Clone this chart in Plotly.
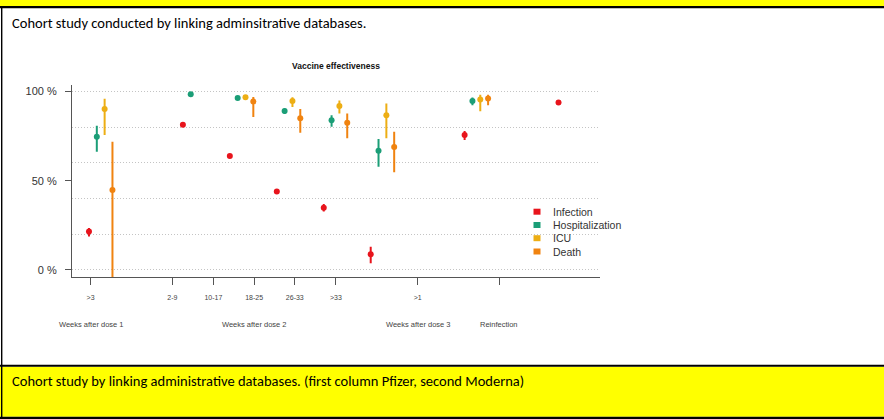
import plotly.graph_objects as go

W, H = 884, 419

# ---- data -------------------------------------------------------------
tick_labels = [">3", "2-9", "10-17", "18-25", "26-33", ">33", ">1", ""]
cat_pos = [0, 2, 3, 4, 5, 6, 8, 10]          # category position along the axis
tick_pos = [0.2, 10.65, 15.9, 21.1, 26.3, 31.55, 42.0, 52.45]
group_labels = ["Weeks after dose 1", "Weeks after dose 2", "Weeks after dose 3", "Reinfection"]
group_at = [0, 3, 6, 7]                        # tick index under which each group label sits

series_names = ["Infection", "Hospitalization", "ICU", "Death"]
series_colors = ["#E8141C", "#1B9E77", "#EDAE14", "#F08310"]

infection    = [21.5, 81.4, 63.9, 43.9, 34.9, 8.8, 75.6, 93.9]
infection_lo = [18.7, 80.6, 63.0, 43.0, 32.7, 3.7, 72.8, 93.0]
infection_hi = [23.5, 82.2, 64.8, 44.8, 37.0, 13.0, 77.9, 94.8]

hosp    = [74.7, 98.6, 96.4, 89.1, 84.0, 66.8, 94.8, None]
hosp_lo = [66.3, 98.0, 95.8, 87.5, 80.3, 57.9, 92.4, None]
hosp_hi = [80.8, 99.2, 97.0, 90.5, 86.8, 73.4, 96.7, None]

icu    = [90.2, None, 96.9, 94.8, 92.0, 86.8, 95.6, None]
icu_lo = [75.6, None, 95.5, 91.4, 87.8, 73.8, 89.0, None]
icu_hi = [96.0, None, 98.0, 96.8, 95.0, 93.4, 98.3, None]

death    = [44.8, None, 94.5, 85.0, 82.5, 69.0, 96.2, None]
death_lo = [-30.0, None, 85.7, 77.0, 73.8, 54.7, 92.4, None]
death_hi = [71.9, None, 97.0, 90.3, 87.8, 77.5, 98.3, None]

values = [infection, hosp, icu, death]
lows = [infection_lo, hosp_lo, icu_lo, death_lo]
highs = [infection_hi, hosp_hi, icu_hi, death_hi]

SLOTS = 6  # each category occupies six slots; series k sits in slot k


def py(v):
    """pixel row -> paper y"""
    return 1 - v / H


def px(v):
    """pixel column -> paper x"""
    return v / W


fig = go.Figure()

for k, name in enumerate(series_names):
    xs, ys, up, dn = [], [], [], []
    for p, v, lo, hi in zip(cat_pos, values[k], lows[k], highs[k]):
        if v is None:
            continue
        xs.append(SLOTS * p + k)
        ys.append(v)
        up.append(hi - v)
        dn.append(v - lo)
    fig.add_trace(go.Scatter(
        x=xs, y=ys, mode="markers", name=name, showlegend=False,
        marker=dict(color=series_colors[k], size=6, symbol="circle"),
        error_y=dict(type="data", symmetric=False, array=up, arrayminus=dn,
                     color=series_colors[k], thickness=2, width=0),
        cliponaxis=True,
    ))

axis_grey = "#555555"
label_font = dict(family="Liberation Sans, Arial, sans-serif", size=7, color="#444444")

fig.update_layout(
    width=W, height=H,
    margin=dict(l=0, r=0, t=0, b=0),
    paper_bgcolor="white", plot_bgcolor="white",
    showlegend=False,
    xaxis=dict(
        domain=[px(72), px(600)], range=[-2.17, 65.3],
        tickmode="array", tickvals=tick_pos, ticktext=tick_labels,
        ticks="outside", ticklen=7, tickwidth=1, tickcolor=axis_grey,
        ticklabelstandoff=7,
        showline=True, linecolor=axis_grey, linewidth=1,
        showgrid=False, zeroline=False, tickfont=label_font,
    ),
    # dotted reference lines every 20 %
    yaxis=dict(
        domain=[py(277), py(84.5)], range=[-4, 104],
        tickmode="array", tickvals=[0, 20, 40, 60, 80, 100],
        showticklabels=False, ticks="",
        showgrid=True, gridcolor="#c4c4c4", griddash="1px,2px", gridwidth=1,
        showline=True, linecolor=axis_grey, linewidth=1, zeroline=False,
    ),
    # labelled axis 0 / 50 / 100 %
    yaxis2=dict(
        overlaying="y", anchor="x", side="left", range=[-4, 104],
        tickmode="array", tickvals=[0, 50, 100], ticktext=["0 %", "50 %", "100 %"],
        ticks="outside", ticklen=6, tickwidth=1, tickcolor=axis_grey,
        ticklabelstandoff=6,
        showgrid=False, showline=False, zeroline=False,
        tickfont=dict(family="Liberation Sans, Arial, sans-serif", size=11, color="#333333"),
    ),
)
# dummy trace so the overlay axis is rendered
fig.add_trace(go.Scatter(x=[None], y=[None], yaxis="y2", showlegend=False, hoverinfo="skip"))

annotations = []
# chart title
annotations.append(dict(text="<b>Vaccine effectiveness</b>", x=(px(72) + px(600)) / 2, y=py(66),
                        xref="paper", yref="paper", showarrow=False, xanchor="center", yanchor="middle",
                        font=dict(family="Liberation Sans, Arial, sans-serif", size=8.5, color="#111111")))
# group labels under the tick labels
for g, ti in zip(group_labels, group_at):
    annotations.append(dict(text=g, x=tick_pos[ti], y=py(324), xref="x", yref="paper",
                            showarrow=False, xanchor="center", yanchor="middle",
                            font=dict(family="Liberation Sans, Arial, sans-serif", size=7.5, color="#444444")))
# legend
legend_rows = [211.7, 225.0, 238.2, 251.5]
shapes = []
for name, col, ry in zip(series_names, series_colors, legend_rows):
    shapes.append(dict(type="rect", xref="paper", yref="paper",
                       x0=px(533.5), x1=px(540.5), y0=py(ry + 3), y1=py(ry - 3),
                       fillcolor=col, line=dict(width=0)))
    annotations.append(dict(text=name, x=px(550.5), y=py(ry), xref="paper", yref="paper",
                            showarrow=False, xanchor="left", yanchor="middle",
                            font=dict(family="Liberation Sans, Arial, sans-serif", size=10.5, color="#333333")))

# surrounding document table
doc_font = "Carlito, Liberation Sans Narrow, Liberation Sans, sans-serif"
annotations.append(dict(text="Cohort study conducted by linking adminsitrative databases.",
                        x=px(10), y=py(23), xref="paper", yref="paper", showarrow=False,
                        xanchor="left", yanchor="middle",
                        font=dict(family=doc_font, size=14.5, color="#000000")))
annotations.append(dict(text="Cohort study by linking administrative databases. (first column Pfizer, second Moderna)",
                        x=px(10), y=py(381), xref="paper", yref="paper", showarrow=False,
                        xanchor="left", yanchor="middle",
                        font=dict(family=doc_font, size=14.5, color="#000000")))

shapes += [
    dict(type="rect", xref="paper", yref="paper", x0=0, x1=1, y0=py(6), y1=1,
         fillcolor="#FFFF00", line=dict(width=0), layer="below"),
    dict(type="rect", xref="paper", yref="paper", x0=0, x1=1, y0=py(8.3), y1=py(6),
         fillcolor="#000000", line=dict(width=0)),
    dict(type="rect", xref="paper", yref="paper", x0=0, x1=1, y0=py(416.7), y1=py(366.7),
         fillcolor="#FFFF00", line=dict(width=0), layer="below"),
    dict(type="rect", xref="paper", yref="paper", x0=0, x1=1, y0=py(366.7), y1=py(364.7),
         fillcolor="#000000", line=dict(width=0)),
    dict(type="rect", xref="paper", yref="paper", x0=0, x1=1, y0=0, y1=py(416.7),
         fillcolor="#000000", line=dict(width=0)),
    dict(type="rect", xref="paper", yref="paper", x0=px(1), x1=px(2.4), y0=0, y1=py(8),
         fillcolor="#000000", line=dict(width=0)),
]

fig.update_layout(annotations=annotations, shapes=shapes)
fig.write_html("out.html")
